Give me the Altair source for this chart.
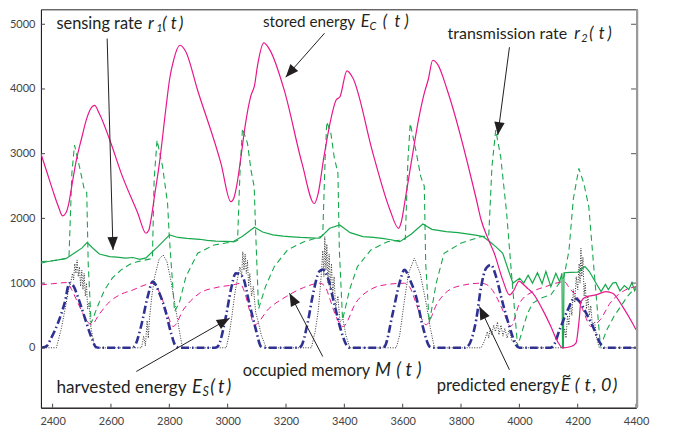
import math
import altair as alt
import pandas as pd

# ---------------- axes ----------------
X_MIN, X_MAX = 2360, 4400
Y_MIN, Y_MAX = -926, 5231
W, H = 596, 399
x_ticks = [2400, 2600, 2800, 3000, 3200, 3400, 3600, 3800, 4000, 4200, 4400]
y_ticks = [0, 1000, 2000, 3000, 4000, 5000]

# ---------------- stored energy E_C(t) ----------------
ec_t = [2360, 2380, 2400, 2420, 2434, 2445, 2455, 2465, 2480, 2500, 2516, 2530, 2544, 2560, 2600, 2635, 2692,
        2720, 2730, 2737, 2749, 2766, 2789, 2801, 2815, 2836, 2855, 2897, 2977, 3011, 3020, 3030, 3045, 3060,
        3080, 3092, 3102, 3124, 3145, 3194, 3255, 3297, 3310, 3330, 3350, 3372, 3385, 3409, 3428, 3498, 3555,
        3586, 3595, 3610, 3630, 3655, 3675, 3688, 3703, 3720, 3753, 3853, 3869, 3892, 3914, 3943, 3966, 3980,
        3999, 4011, 4030, 4046, 4080, 4108, 4131, 4148, 4177, 4194, 4205, 4211, 4230, 4263, 4297, 4320, 4354,
        4388, 4400]
ec_v = [3000, 2720, 2440, 2180, 2040, 2080, 2220, 2480, 2870, 3250, 3530, 3690, 3745, 3620, 3160, 2700, 2080,
        1770, 1820, 1975, 2335, 2850, 3725, 4150, 4450, 4676, 4590, 3981, 2850, 2258, 2300, 2480, 2930, 3430,
        3900, 4050, 4350, 4712, 4600, 3981, 2850, 2230, 2380, 2950, 3450, 3830, 3880, 4280, 4180, 3004, 2150,
        1847, 1940, 2330, 2880, 3540, 3950, 4150, 4444, 4380, 3981, 2284, 1975, 1693, 1461, 1050, 818, 880,
        1030, 990, 910, 844, 586, 329, 98, 0, 20, 72, 432, 714, 790, 818, 869, 844, 637,
        380, 278]

# ---------------- sensing rate r1(t) ----------------
r1_t = [2360, 2380, 2400, 2420, 2448, 2480, 2500, 2518, 2540, 2560, 2596, 2620, 2650, 2675, 2699, 2720, 2760,
        2801, 2830, 2860, 2904, 2930, 2960, 2990, 3018, 3050, 3092, 3120, 3155, 3190, 3220, 3250, 3285, 3316,
        3350, 3384, 3420, 3464, 3500, 3530, 3560, 3590, 3630, 3669, 3700, 3749, 3790, 3820, 3850, 3875, 3899,
        3920, 3943, 3966, 3978, 3990, 4001, 4015, 4030, 4045, 4062, 4078, 4091, 4108, 4125, 4138, 4146, 4148,
        4151, 4153, 4175, 4200, 4225, 4240, 4263, 4280, 4295, 4305, 4320, 4331, 4345, 4360, 4375, 4386, 4395,
        4400]
r1_v = [1307, 1330, 1345, 1360, 1384, 1480, 1540, 1625, 1530, 1450, 1409, 1400, 1385, 1395, 1368, 1390, 1560,
        1744, 1705, 1690, 1677, 1660, 1650, 1645, 1640, 1720, 1863, 1790, 1744, 1725, 1715, 1705, 1700, 1693,
        1847, 1898, 1780, 1718, 1705, 1690, 1670, 1640, 1760, 1914, 1830, 1795, 1780, 1760, 1740, 1718, 1640,
        1560, 1461, 1153, 998, 1040, 1075, 1000, 1120, 1000, 1160, 990, 1180, 946, 1150, 1020, 1153, 0,
        0, 1160, 1165, 1170, 1255, 1178, 998, 869, 980, 900, 1000, 1010, 880, 960, 900, 1010, 880,
        920]

# ---------------- transmission rate r2(t) ----------------
r2_t = [2360, 2400, 2430, 2456, 2466, 2475, 2492, 2509, 2517, 2522, 2532, 2555, 2578, 2605, 2635, 2665, 2692,
        2742, 2748, 2758, 2777, 2794, 2800, 2818, 2834, 2857, 2897, 2954, 3023, 3034, 3043, 3051, 3068, 3080,
        3091, 3096, 3106, 3130, 3160, 3205, 3262, 3319, 3326, 3334, 3340, 3354, 3365, 3378, 3383, 3394, 3418,
        3445, 3491, 3548, 3599, 3609, 3618, 3626, 3645, 3662, 3674, 3679, 3691, 3715, 3742, 3799, 3868, 3895,
        3906, 3919, 3936, 3956, 3972, 3994, 4011, 4028, 4046, 4075, 4108, 4153, 4170, 4185, 4204, 4221, 4238,
        4256, 4278, 4300, 4324, 4370, 4400]
r2_v = [1330, 1345, 1365, 1390, 2700, 3133, 2798, 2438, 2400, 1300, 380, 650, 895, 1080, 1204, 1290, 1332,
        1380, 2600, 3210, 2798, 2233, 1718, 560, 690, 1100, 1461, 1590, 1640, 1660, 2800, 3390, 3159, 2747,
        2489, 1800, 600, 950, 1255, 1512, 1640, 1718, 1740, 2900, 3493, 3313, 2953, 2700, 1500, 432, 900,
        1255, 1512, 1640, 1667, 1680, 2900, 3467, 3056, 2644, 2500, 1300, 380, 1000, 1461, 1615, 1718, 1730,
        2800, 3364, 2953, 2100, 1204, 20, 278, 535, 690, 770, 818, 1100, 1500, 2300, 2773, 2541, 2181,
        1200, 20, 280, 483, 792, 950]

# ---------------- occupied memory M(t) ----------------
m_t = [2360, 2400, 2448, 2465, 2482, 2505, 2533, 2560, 2596, 2636, 2676, 2710, 2744, 2758, 2775, 2795, 2813,
       2850, 2904, 2960, 3018, 3042, 3058, 3075, 3092, 3140, 3201, 3260, 3316, 3335, 3350, 3372, 3395, 3440,
       3498, 3550, 3606, 3625, 3645, 3662, 3680, 3720, 3760, 3810, 3863, 3880, 3899, 3920, 3945, 3970, 4001,
       4046, 4091, 4125, 4153, 4175, 4198, 4220, 4245, 4277, 4311, 4354, 4400]
m_v = [972, 990, 1008, 900, 740, 520, 355, 520, 714, 830, 895, 960, 998, 930, 760, 500, 329,
       600, 844, 930, 972, 995, 860, 580, 355, 600, 792, 930, 998, 940, 760, 480, 329, 700,
       920, 980, 998, 930, 700, 480, 355, 700, 895, 970, 998, 990, 940, 800, 560, 330, 690,
       869, 946, 998, 1023, 900, 792, 560, 330, 432, 690, 869, 946]

# ---------------- harvested energy E_S(t) ----------------
es_t = [2360, 2413, 2430, 2445, 2455, 2462, 2468, 2472, 2476, 2480, 2484, 2488, 2492, 2496, 2500, 2504, 2508,
        2512, 2516, 2520, 2525, 2530, 2538, 2545,
        2705, 2712, 2718, 2724, 2728, 2732, 2740, 2750, 2765, 2779, 2792, 2805, 2820, 2834, 2845,
        2995, 3005, 3015, 3025, 3035, 3042, 3048, 3052, 3056, 3060, 3064, 3068, 3072, 3076, 3082, 3088, 3096,
        3105, 3115, 3132,
        3287, 3300, 3310, 3318, 3322, 3326, 3330, 3333, 3337, 3340, 3344, 3348, 3352, 3356, 3360, 3365, 3370,
        3378, 3385, 3395, 3405, 3419,
        3578, 3590, 3605, 3620, 3640, 3660, 3680, 3695, 3709,
        3869, 3880, 3890, 3895, 3900, 3905, 3912, 3918, 3925, 3930, 3937, 3944, 3950, 3958, 3965, 3975, 3985,
        4000,
        4148, 4155, 4160, 4165, 4170, 4175, 4180, 4185, 4190, 4195, 4200, 4205, 4208, 4211, 4214, 4218, 4222,
        4226, 4230, 4235, 4240, 4245, 4250, 4258, 4265, 4274, 4400]
es_v = [0, 0, 300, 650, 900, 1000, 1150, 1050, 1300, 1150, 1358, 1100, 1250, 950, 1200, 900, 1150,
        800, 1000, 600, 700, 350, 150, 0,
        0, 180, 30, 420, 150, 450, 800, 1100, 1370, 1435, 1330, 1050, 650, 278, 0,
        0, 200, 500, 850, 1100, 1250, 1100, 1486, 1200, 1450, 1150, 1350, 950, 1150, 800, 950, 550,
        400, 200, 0,
        0, 250, 550, 950, 1200, 1500, 1100, 1718, 1200, 1600, 1000, 1450, 900, 1300, 800, 1100, 600,
        800, 400, 450, 200, 0,
        0, 200, 700, 1150, 1384, 1150, 700, 300, 0,
        0, 100, 250, 150, 300, 200, 350, 250, 400, 200, 350, 180, 300, 150, 280, 100, 120,
        0,
        0, 300, 150, 500, 350, 700, 500, 900, 700, 1100, 900, 1300, 1000, 1538, 1100, 1400, 800,
        1000, 600, 800, 500, 650, 350, 400, 150, 0, 0]

# ---------------- predicted energy E~(t,0) ----------------
pe_t = [2360, 2378, 2395, 2418, 2441, 2458, 2472, 2486, 2509, 2532, 2549, 2560,
        2670, 2680, 2703, 2726, 2743, 2766, 2789, 2806, 2823, 2835,
        2955, 2966, 2994, 3011, 3028, 3051, 3074, 3097, 3114, 3125,
        3240, 3251, 3274, 3291, 3314, 3325, 3342, 3365, 3388, 3411, 3420,
        3528, 3538, 3566, 3589, 3606, 3625, 3646, 3669, 3692, 3702,
        3813, 3823, 3852, 3869, 3886, 3903, 3920, 3943, 3966, 3988, 4000,
        4105, 4115, 4138, 4166, 4189, 4205, 4229, 4252, 4277, 4290, 4400]
pe_v = [0, 20, 150, 380, 690, 998, 950, 792, 483, 174, 10, 0,
        0, 20, 329, 792, 1023, 844, 535, 226, 20, 0,
        0, 20, 483, 895, 1153, 1100, 690, 278, 20, 0,
        0, 20, 380, 792, 1178, 1210, 1100, 690, 278, 20, 0,
        0, 20, 535, 998, 1204, 1050, 792, 329, 20, 0,
        0, 20, 432, 946, 1230, 1281, 1100, 690, 329, 46, 0,
        0, 20, 278, 586, 767, 720, 535, 329, 72, 0, 0]

# ---------------- annotations ----------------
label_text = ["sensing rate", "stored energy", "transmission rate", "harvested energy",
              "occupied memory", "predicted energy", "~"]
label_t = [2413, 3121, 3754, 2413, 3052, 3717, 4145]
label_v = [4934, 4958, 4779, -699, -443, -674, -520]
label_size = [16.4, 15.3, 16, 17.2, 16.3, 16.6, 16]

math_text = ["r", "(", "t", ")", "E", "(", "t", ")", "r", "(", "t", ")", "E", "(", "t", ")",
             "M", "(", "t", ")", "E", "(", "t", ",", "0", ")"]
math_t = [2727, 2776, 2805, 2833, 3456, 3532, 3572, 3606, 4188, 4240, 4272, 4302, 2878, 2940, 2967, 2996,
          3505, 3578, 3610, 3648, 4142, 4190, 4223, 4251, 4280, 4320]
math_v = [4934] * 4 + [4958] * 4 + [4779] * 4 + [-699] * 4 + [-443] * 4 + [-674] * 6
math_size = [17] * 4 + [16.5] * 4 + [16.5] * 4 + [18.5] * 4 + [18.5] * 4 + [18] * 6

sub_text = ["1", "C", "2", "S"]
sub_t = [2755, 3486, 4212, 2914]
sub_v = [4884, 4907, 4730, -748]
sub_size = [11, 11, 11, 12.5]

arrow_tail_t = [2587, 3332, 3966, 2687, 3326, 3966]
arrow_tail_v = [4779, 4861, 4645, -366, -134, -340]
arrow_tip_t = [2607, 3199, 3926, 3007, 3212, 3863]
arrow_tip_v = [1512, 4182, 3287, 458, 844, 637]

# ---------------- build ----------------
INK = "#231f20"
MAGENTA = "#e8168b"
GREEN = "#17a84c"
NAVY = "#2e3192"
FONT = "Lato"

xs = alt.Scale(domain=[X_MIN, X_MAX], nice=False, zero=False)
ys = alt.Scale(domain=[Y_MIN, Y_MAX], nice=False, zero=False)
x_axis = alt.Axis(values=x_ticks, format="d", grid=False, ticks=False, labelPadding=8, title=None,
                  labelFlush=False, labelOverlap=False,
                  domainColor=INK, labelFont=FONT, labelFontSize=11, labelColor="#444")
y_axis = alt.Axis(values=y_ticks, format="d", grid=False, ticks=False, labelPadding=6, title=None,
                  labelFlush=False, labelOverlap=False,
                  domainColor=INK, labelFont=FONT, labelFontSize=11, labelColor="#444")


def X(field):
    return alt.X(field, scale=xs, axis=x_axis, title=None)


def Y(field):
    return alt.Y(field, scale=ys, axis=y_axis, title=None)


def series(t, v, color, width, dash=None, interp="linear"):
    kw = dict(color=color, strokeWidth=width, interpolate=interp, clip=True)
    if dash:
        kw["strokeDash"] = dash
    return alt.Chart(pd.DataFrame({"t": t, "v": v})).mark_line(**kw).encode(x=X("t:Q"), y=Y("v:Q"))


xt = pd.DataFrame({"t": x_ticks})
yt = pd.DataFrame({"v": y_ticks})
bottom_ticks = alt.Chart(xt).mark_rule(color="#444", strokeWidth=1).encode(
    x=X("t:Q"), y=alt.value(H), y2=alt.value(H - 4))
left_ticks = alt.Chart(yt).mark_rule(color="#444", strokeWidth=1).encode(
    y=Y("v:Q"), x=alt.value(0), x2=alt.value(4))
right_ticks = alt.Chart(yt).mark_rule(color="#555", strokeWidth=1).encode(
    y=Y("v:Q"), x=alt.value(W), x2=alt.value(W - 5))
right_border = alt.Chart(yt).mark_rule(color="#9a9a9a", strokeWidth=2).encode(
    x=alt.value(W + 1), y=alt.value(0), y2=alt.value(H))

px_t = W / (X_MAX - X_MIN)
px_v = H / (Y_MAX - Y_MIN)
angles = []
for a, b, c, d in zip(arrow_tail_t, arrow_tail_v, arrow_tip_t, arrow_tip_v):
    dx = (c - a) * px_t
    dy = -(d - b) * px_v
    angles.append(math.degrees(math.atan2(dx, -dy)) % 360)
arrows_df = pd.DataFrame({"t": arrow_tail_t, "v": arrow_tail_v, "t2": arrow_tip_t, "v2": arrow_tip_v,
                          "ang": angles})
arrow_lines = alt.Chart(arrows_df).mark_rule(color=INK, strokeWidth=1).encode(
    x=X("t:Q"), y=Y("v:Q"), x2="t2:Q", y2="v2:Q")
arrow_heads = alt.Chart(arrows_df).mark_point(
    shape="M0,0L-0.4,1L0.4,1Z", filled=True, size=676, color=INK, opacity=1, strokeWidth=0
).encode(x=X("t2:Q"), y=Y("v2:Q"), angle=alt.Angle("ang:Q", scale=None))


def texts(t, v, s, size, italic):
    kw = dict(font=FONT, color=INK, align="left", baseline="alphabetic")
    if italic:
        kw["fontStyle"] = "italic"
    return alt.Chart(pd.DataFrame({"t": t, "v": v, "s": s, "fs": size})).mark_text(**kw).encode(
        x=X("t:Q"), y=Y("v:Q"), text="s:N", size=alt.Size("fs:Q", scale=None, legend=None))


labels = texts(label_t, label_v, label_text, label_size, False)
maths = texts(math_t, math_v, math_text, math_size, True)
subs = texts(sub_t, sub_v, sub_text, sub_size, True)

chart = alt.layer(
    series(es_t, es_v, "#333333", 1, dash=[1, 1.5]),
    series(m_t, m_v, MAGENTA, 1, dash=[6, 4], interp="monotone"),
    series(r2_t, r2_v, GREEN, 1.1, dash=[6, 4]),
    series(r1_t, r1_v, GREEN, 1.2),
    series(pe_t, pe_v, NAVY, 2.6, dash=[8, 3, 1.5, 3], interp="monotone"),
    series(ec_t, ec_v, MAGENTA, 1.2, interp="monotone"),
    bottom_ticks, left_ticks, right_ticks, right_border,
    arrow_lines, arrow_heads, labels, maths, subs,
).properties(
    width=W, height=H,
    padding={"left": 33, "top": 1, "right": 30, "bottom": 19},
    autosize=alt.AutoSizeParams(type="none"),
).configure_view(stroke=INK, strokeWidth=1)

chart.save("out.html", embed_options={"renderer": "svg", "actions": False})
